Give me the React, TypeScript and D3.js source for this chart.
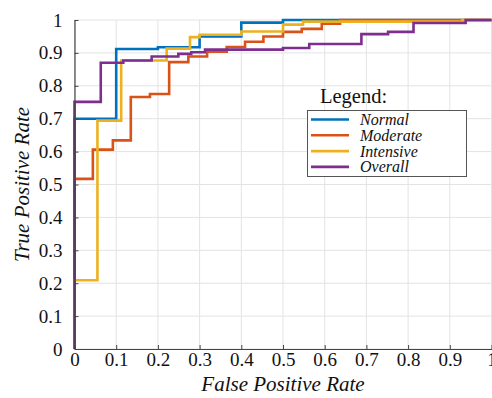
import React, { useEffect, useRef } from 'react';
import * as d3 from 'd3';

// ROC curves: each point is (fpr where tpr jumps, new tpr)
const normalFpr = [0, 0, 0.1, 0.2, 0.3, 0.4, 0.5, 1];
const normalTpr = [0, 0.7, 0.912, 0.917, 0.95, 0.992, 1, 1];

const moderateFpr = [0, 0, 0.044, 0.092, 0.135, 0.181, 0.227, 0.273, 0.318, 0.365, 0.409, 0.453, 0.5, 0.545, 0.593, 0.637, 1];
const moderateTpr = [0, 0.517, 0.606, 0.634, 0.766, 0.775, 0.872, 0.889, 0.904, 0.918, 0.934, 0.95, 0.964, 0.973, 0.989, 1, 1];

const intensiveFpr = [0, 0, 0.055, 0.112, 0.221, 0.277, 0.3, 0.4, 0.5, 0.548, 0.93, 1];
const intensiveTpr = [0, 0.209, 0.694, 0.877, 0.913, 0.948, 0.955, 0.965, 0.986, 0.995, 1, 1];

const overallFpr = [0, 0, 0.063, 0.117, 0.185, 0.249, 0.28, 0.313, 0.5, 0.563, 0.688, 0.752, 0.813, 0.938, 1];
const overallTpr = [0, 0.751, 0.87, 0.877, 0.889, 0.897, 0.902, 0.91, 0.915, 0.927, 0.957, 0.964, 0.991, 1, 1];

const seriesNames = ['Normal', 'Moderate', 'Intensive', 'Overall'];
const seriesColors = ['#0072BD', '#D95319', '#EDB120', '#7E2F8E'];
const tickValues = d3.range(0, 11).map(d => d / 10);

const serif = "'Liberation Serif', Tinos, 'Times New Roman', Times, 'DejaVu Serif', serif";

const App = () => {
  const svgRef = useRef<SVGSVGElement>(null);

  useEffect(() => {
    const width = 492;
    const height = 398;
    const margin = { top: 20, right: 0.5, bottom: 49, left: 74.5 };

    const svg = d3.select(svgRef.current);
    svg.selectAll('*').remove();
    svg.attr('width', width).attr('height', height);

    const xScale = d3.scaleLinear().domain([0, 1]).range([margin.left, width - margin.right]);
    const yScale = d3.scaleLinear().domain([0, 1]).range([height - margin.bottom, margin.top]);

    // grid
    const grid = svg.append('g');
    grid.selectAll('.vgrid')
      .data(tickValues)
      .enter()
      .append('line')
      .attr('x1', d => xScale(d))
      .attr('x2', d => xScale(d))
      .attr('y1', yScale(0))
      .attr('y2', yScale(1))
      .style('stroke', '#e3e3e3')
      .style('stroke-width', 1);
    grid.selectAll('.hgrid')
      .data(tickValues)
      .enter()
      .append('line')
      .attr('x1', xScale(0))
      .attr('x2', xScale(1))
      .attr('y1', d => yScale(d))
      .attr('y2', d => yScale(d))
      .style('stroke', '#e3e3e3')
      .style('stroke-width', 1);

    // curves
    const series = [
      normalFpr.map((x, i) => [x, normalTpr[i]]),
      moderateFpr.map((x, i) => [x, moderateTpr[i]]),
      intensiveFpr.map((x, i) => [x, intensiveTpr[i]]),
      overallFpr.map((x, i) => [x, overallTpr[i]]),
    ];
    const line = d3.line<number[]>()
      .x(d => xScale(d[0]))
      .y(d => yScale(d[1]))
      .curve(d3.curveStepAfter);

    svg.append('g')
      .selectAll('path')
      .data(series)
      .enter()
      .append('path')
      .attr('d', d => line(d))
      .style('fill', 'none')
      .style('stroke', (_, i) => seriesColors[i])
      .style('stroke-width', 2.6);

    // axes
    const xAxis = d3.axisBottom(xScale)
      .tickValues(tickValues)
      .tickFormat(d => d3.format('~g')(d as number))
      .tickSizeInner(-4)
      .tickSizeOuter(0)
      .tickPadding(4);
    const yAxis = d3.axisLeft(yScale)
      .tickValues(tickValues)
      .tickFormat(d => d3.format('~g')(d as number))
      .tickSizeInner(-4)
      .tickSizeOuter(0)
      .tickPadding(12);

    const gx = svg.append('g')
      .attr('transform', `translate(0,${yScale(0)})`)
      .call(xAxis);
    const gy = svg.append('g')
      .attr('transform', `translate(${xScale(0)},0)`)
      .call(yAxis);

    [gx, gy].forEach(g => {
      g.attr('font-family', null).attr('font-size', null);
      g.select('.domain').style('stroke', '#444').style('stroke-width', 1.2);
      g.selectAll('.tick line').style('stroke', '#444');
      g.selectAll('.tick text')
        .attr('font-family', serif)
        .style('font-family', serif)
        .style('font-size', '19px')
        .style('fill', '#111');
    });

    svg.append('text')
      .attr('text-anchor', 'middle')
      .attr('x', (xScale(0) + xScale(1)) / 2)
      .attr('y', 391)
      .style('font-family', serif)
      .style('font-style', 'italic')
      .style('font-size', '21px')
      .style('fill', '#111')
      .text('False Positive Rate');

    svg.append('text')
      .attr('text-anchor', 'middle')
      .attr('transform', `translate(29,${(yScale(0) + yScale(1)) / 2}) rotate(-90)`)
      .style('font-family', serif)
      .style('font-style', 'italic')
      .style('font-size', '21px')
      .style('fill', '#111')
      .text('True Positive Rate');

    // legend
    const legend = svg.append('g');
    legend.append('text')
      .attr('x', 320)
      .attr('y', 103)
      .style('font-family', serif)
      .style('font-size', '20.5px')
      .style('fill', '#111')
      .text('Legend:');
    legend.append('rect')
      .attr('x', 307.5)
      .attr('y', 110.5)
      .attr('width', 159)
      .attr('height', 66)
      .style('fill', '#fff')
      .style('stroke', '#555')
      .style('stroke-width', 1);

    const rows = legend.selectAll('.item')
      .data(seriesNames)
      .enter()
      .append('g')
      .attr('transform', (_, i) => `translate(0,${119.5 + i * 15.8})`);
    rows.append('line')
      .attr('x1', 311)
      .attr('x2', 349)
      .attr('y1', 0)
      .attr('y2', 0)
      .style('stroke', (_, i) => seriesColors[i])
      .style('stroke-width', 2.6);
    rows.append('text')
      .attr('x', 360)
      .attr('y', 5.5)
      .style('font-family', serif)
      .style('font-style', 'italic')
      .style('font-size', '16px')
      .style('fill', '#111')
      .text(d => d);
  }, []);

  return <svg ref={svgRef} style={{ position: 'absolute', left: 0, top: 0 }}></svg>;
};

export default App;
